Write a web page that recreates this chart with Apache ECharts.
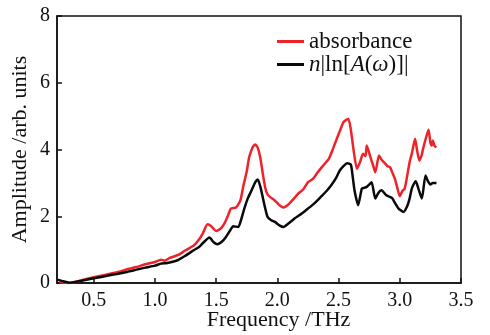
<!DOCTYPE html>
<html>
<head>
<meta charset="utf-8">
<script src="https://cdn.jsdelivr.net/npm/echarts@6/dist/echarts.min.js"></script>
<style>
  html, body { margin: 0; padding: 0; background: #fff; }
  #chart { width: 490px; height: 335px; }
</style>
</head>
<body>
<div id="chart"></div>
<script>
// values
const xTicks = [0.5, 1.0, 1.5, 2.0, 2.5, 3.0, 3.5];

const redFreq = [0.22, 0.30, 0.40, 0.50, 0.60, 0.70, 0.78, 0.85, 0.92, 1.00, 1.05, 1.08, 1.12, 1.19, 1.25, 1.32, 1.36, 1.39, 1.43, 1.46, 1.50, 1.54, 1.57, 1.60, 1.62, 1.66, 1.68, 1.70, 1.72, 1.75, 1.77, 1.80, 1.82, 1.84, 1.86, 1.88, 1.90, 1.92, 1.94, 1.97, 1.99, 2.02, 2.05, 2.08, 2.11, 2.14, 2.17, 2.21, 2.25, 2.29, 2.33, 2.37, 2.42, 2.45, 2.48, 2.51, 2.54, 2.56, 2.58, 2.60, 2.62, 2.65, 2.675, 2.70, 2.72, 2.73, 2.76, 2.78, 2.80, 2.83, 2.85, 2.87, 2.90, 2.92, 2.94, 2.96, 2.98, 3.00, 3.02, 3.04, 3.06, 3.08, 3.10, 3.125, 3.14, 3.16, 3.18, 3.19, 3.21, 3.235, 3.25, 3.26, 3.27, 3.285, 3.30];
const redAmp = [0.02, 0.00, 0.08, 0.17, 0.25, 0.33, 0.42, 0.48, 0.56, 0.63, 0.70, 0.67, 0.75, 0.84, 0.98, 1.13, 1.30, 1.48, 1.76, 1.70, 1.56, 1.64, 1.80, 2.05, 2.23, 2.26, 2.35, 2.50, 2.87, 3.35, 3.77, 4.08, 4.15, 4.05, 3.77, 3.30, 2.87, 2.65, 2.58, 2.50, 2.43, 2.32, 2.26, 2.32, 2.43, 2.55, 2.68, 2.80, 3.02, 3.12, 3.32, 3.50, 3.72, 3.98, 4.27, 4.55, 4.82, 4.88, 4.92, 4.60, 4.05, 3.42, 3.62, 3.87, 3.80, 4.12, 3.77, 3.55, 3.32, 3.82, 3.70, 3.62, 3.50, 3.47, 3.30, 3.12, 2.85, 2.60, 2.75, 2.83, 3.20, 3.62, 3.90, 4.32, 4.00, 3.67, 3.85, 4.02, 4.30, 4.59, 4.20, 4.12, 4.27, 4.10, 4.07];

const blackFreq = [0.20, 0.25, 0.30, 0.40, 0.50, 0.60, 0.70, 0.78, 0.85, 0.92, 1.00, 1.05, 1.10, 1.19, 1.25, 1.32, 1.36, 1.39, 1.445, 1.48, 1.51, 1.55, 1.58, 1.61, 1.64, 1.68, 1.70, 1.73, 1.76, 1.79, 1.82, 1.84, 1.86, 1.88, 1.90, 1.92, 1.95, 1.98, 2.02, 2.05, 2.09, 2.14, 2.20, 2.25, 2.30, 2.36, 2.40, 2.44, 2.48, 2.51, 2.54, 2.57, 2.60, 2.615, 2.63, 2.66, 2.69, 2.71, 2.73, 2.75, 2.77, 2.80, 2.825, 2.85, 2.89, 2.92, 2.94, 2.96, 2.99, 3.03, 3.06, 3.08, 3.10, 3.13, 3.15, 3.18, 3.21, 3.23, 3.25, 3.27, 3.30];
const blackAmp = [0.10, 0.05, 0.01, 0.07, 0.14, 0.21, 0.28, 0.34, 0.40, 0.46, 0.52, 0.58, 0.60, 0.69, 0.82, 0.99, 1.08, 1.19, 1.36, 1.22, 1.16, 1.25, 1.38, 1.55, 1.70, 1.68, 1.85, 2.23, 2.55, 2.78, 3.02, 3.10, 2.90, 2.58, 2.25, 1.98, 1.88, 1.83, 1.72, 1.68, 1.78, 1.93, 2.08, 2.23, 2.38, 2.60, 2.75, 2.93, 3.15, 3.37, 3.50, 3.59, 3.55, 3.20, 2.78, 2.33, 2.83, 2.85, 2.88, 2.95, 3.02, 2.53, 2.70, 2.78, 2.63, 2.58, 2.53, 2.40, 2.23, 2.13, 2.30, 2.53, 2.85, 3.05, 2.85, 2.53, 3.22, 3.05, 2.95, 3.00, 3.00];

const font = "'Liberation Serif', 'DejaVu Serif', serif";
const chart = echarts.init(document.getElementById("chart"));

chart.setOption({
  backgroundColor: "#fff",
  animation: false,
  grid: {
    left: 57, right: 29, top: 16, bottom: 52,
    outerBoundsMode: "none",
    show: true, borderColor: "#111", borderWidth: 1.5
  },
  legend: {
    orient: "vertical",
    left: 272,
    top: 25,
    itemGap: 0,
    itemWidth: 27,
    itemHeight: 3,
    icon: "rect",
    textStyle: {
      fontFamily: font, fontSize: 23, color: "#111",
      rich: { i: { fontFamily: font, fontSize: 23, fontStyle: "italic", color: "#111" } }
    },
    formatter: name => name === "absorbance" ? name : "{i|n}|ln[{i|A}({i|ω})]|",
    data: ["absorbance", "n|ln[A(ω)]|"]
  },
  xAxis: {
    type: "value",
    min: 0.2,
    max: 3.5,
    name: "Frequency /THz",
    nameLocation: "middle",
    nameGap: 26,
    nameMoveOverlap: false,
    nameTextStyle: { fontFamily: font, fontSize: 22, color: "#111", padding: [0, 0, 0, 39] },
    splitLine: { show: false },
    axisLine: { lineStyle: { color: "#111", width: 1.5 } },
    axisTick: { inside: true, length: 5, customValues: xTicks, lineStyle: { color: "#111", width: 1.5 } },
    axisLabel: {
      customValues: xTicks,
      margin: 8,
      fontFamily: font, fontSize: 20, color: "#111",
      formatter: v => v.toFixed(1)
    }
  },
  yAxis: {
    type: "value",
    min: 0,
    max: 8,
    interval: 2,
    name: "Amplitude /arb. units",
    nameLocation: "middle",
    nameGap: 26,
    nameMoveOverlap: false,
    nameTextStyle: { fontFamily: font, fontSize: 22, color: "#111" },
    splitLine: { show: false },
    axisLine: { show: true, lineStyle: { color: "#111", width: 1.5 } },
    axisTick: { inside: true, length: 5, lineStyle: { color: "#111", width: 1.5 } },
    axisLabel: { margin: 7, fontFamily: font, fontSize: 20, color: "#111" }
  },
  series: [
    {
      name: "absorbance",
      type: "line",
      data: redFreq.map((f, i) => [f, redAmp[i]]),
      symbol: "none",
      smooth: 0.2,
      lineStyle: { color: "#ee2229", width: 2.5 },
      itemStyle: { color: "#ee2229" }
    },
    {
      name: "n|ln[A(ω)]|",
      type: "line",
      data: blackFreq.map((f, i) => [f, blackAmp[i]]),
      symbol: "none",
      smooth: 0.2,
      lineStyle: { color: "#0a0a0a", width: 2.5 },
      itemStyle: { color: "#0a0a0a" }
    }
  ]
});
</script>
</body>
</html>
